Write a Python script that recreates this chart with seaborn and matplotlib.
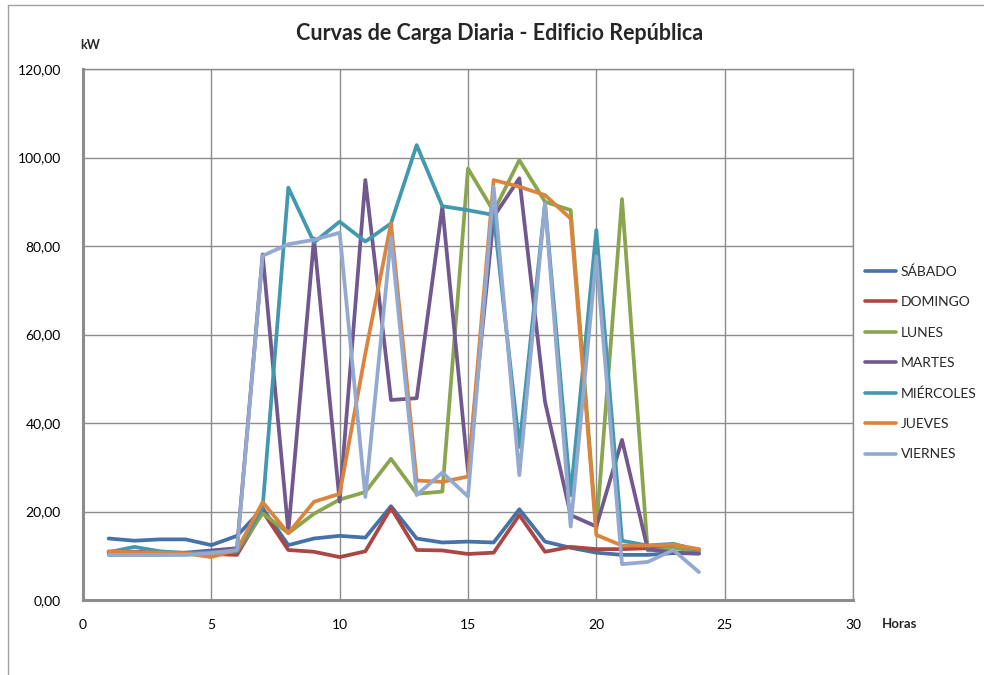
import matplotlib
matplotlib.use("Agg")
import matplotlib.pyplot as plt
from matplotlib.ticker import FuncFormatter
from matplotlib.lines import Line2D
import seaborn as sns
import pandas as pd

# Hourly load (kW) per day of the week
horas = list(range(1, 25))
sabado = [13.9, 13.4, 13.7, 13.7, 12.4, 14.5, 20.7, 12.4, 13.9, 14.5, 14.1, 21.2,
          13.9, 13.0, 13.2, 13.0, 20.5, 13.2, 11.8, 10.7, 10.2, 10.2, 10.6, 10.5]
domingo = [10.9, 10.9, 10.7, 10.6, 10.4, 10.2, 20.0, 11.3, 10.9, 9.7, 11.0, 20.8,
           11.3, 11.2, 10.4, 10.7, 19.2, 10.9, 12.0, 11.5, 11.5, 11.7, 12.0, 11.4]
lunes = [10.2, 10.2, 10.2, 10.3, 10.5, 11.0, 19.6, 15.1, 19.5, 22.7, 24.4, 31.9,
         24.0, 24.5, 97.5, 87.8, 99.4, 90.0, 88.1, 16.0, 90.6, 11.2, 11.7, 11.1]
martes = [10.8, 10.8, 10.7, 10.7, 11.2, 11.7, 78.1, 15.4, 81.7, 22.2, 94.9, 45.2,
          45.6, 88.9, 29.0, 86.6, 95.3, 44.8, 19.2, 16.6, 36.2, 11.5, 10.7, 10.5]
miercoles = [10.8, 12.0, 11.0, 10.6, 10.8, 11.0, 21.0, 93.2, 80.8, 85.5, 81.0, 85.1,
             102.8, 89.0, 88.1, 87.0, 34.6, 89.6, 23.7, 83.6, 13.4, 12.3, 12.7, 11.2]
jueves = [11.0, 10.8, 10.7, 10.5, 9.7, 11.3, 22.1, 15.1, 22.2, 24.0, 55.7, 85.1,
          27.0, 26.7, 27.9, 94.9, 93.4, 91.5, 86.2, 14.7, 12.3, 12.3, 12.5, 11.5]
viernes = [10.2, 10.2, 10.2, 10.2, 10.6, 11.3, 77.8, 80.4, 81.4, 83.0, 23.3, 82.0,
           23.7, 28.8, 23.4, 93.3, 28.2, 89.6, 16.6, 77.6, 8.1, 8.6, 11.3, 6.3]

dias = ["SÁBADO", "DOMINGO", "LUNES", "MARTES", "MIÉRCOLES", "JUEVES", "VIERNES"]
series = [sabado, domingo, lunes, martes, miercoles, jueves, viernes]
colores = ["#4572A7", "#AA4643", "#89A54E", "#71588F", "#4198AF", "#DB843D", "#93A9CF"]

y_ticks = [0, 20, 40, 60, 80, 100, 120]
x_ticks = [0, 5, 10, 15, 20, 25, 30]

df = pd.DataFrame(
    [(h, d, v) for d, vals in zip(dias, series) for h, v in zip(horas, vals)],
    columns=["Horas", "Día", "kW"],
)

sns.set_theme(style="white")
plt.rcParams["font.family"] = ["Lato", "DejaVu Sans"]

fig = plt.figure(figsize=(9.84, 6.75), dpi=100)
ax = fig.add_axes([83 / 984, 75 / 675, 770 / 984, 531 / 675])

sns.lineplot(data=df, x="Horas", y="kW", hue="Día", hue_order=dias,
             palette=colores, linewidth=2.7, ax=ax, legend=False, sort=False)

ax.set_xlim(0, 30)
ax.set_ylim(0, 120)
ax.set_xticks(x_ticks)
ax.set_yticks(y_ticks)
ax.yaxis.set_major_formatter(FuncFormatter(lambda v, p: f"{v:.2f}".replace(".", ",")))
ax.grid(True, color="#8c8c8c", linewidth=1.0)
ax.set_axisbelow(True)
ax.set_xlabel("")
ax.set_ylabel("")
ax.tick_params(axis="both", length=0, labelsize=10, colors="#000000")
ax.tick_params(axis="x", pad=14)
ax.tick_params(axis="y", pad=16)
for side in ["top", "right"]:
    ax.spines[side].set_color("#8c8c8c")
    ax.spines[side].set_linewidth(1.0)
for side in ["left", "bottom"]:
    ax.spines[side].set_color("#8c8c8c")
    ax.spines[side].set_linewidth(2.2)

fig.text(500 / 984, 1 - 34 / 675, "Curvas de Carga Diaria - Edificio República",
         ha="center", va="center", fontsize=15.5, fontweight="bold")
fig.text(80 / 984, 1 - 45 / 675, "kW", ha="left", va="center",
         fontsize=9, fontweight="bold")
fig.text(882 / 984, 1 - 624 / 675, "Horas", ha="left", va="center",
         fontsize=9.5, fontweight="bold")

handles = [Line2D([0], [0], color=c, linewidth=2.6) for c in colores]
fig.legend(handles, dias, loc="upper left", bbox_to_anchor=(852 / 984, 1 - 253 / 675),
           frameon=False, fontsize=10, handlelength=2.3, handletextpad=0.3,
           labelspacing=1.32)

# chart area border
fig.add_artist(Line2D([8 / 984, 8 / 984], [0, 1 - 5 / 675], color="#a0a0a0",
                      linewidth=1.0, transform=fig.transFigure))
fig.add_artist(Line2D([8 / 984, 1], [1 - 5 / 675, 1 - 5 / 675], color="#a0a0a0",
                      linewidth=1.0, transform=fig.transFigure))

fig.savefig("out.png", dpi=100)
